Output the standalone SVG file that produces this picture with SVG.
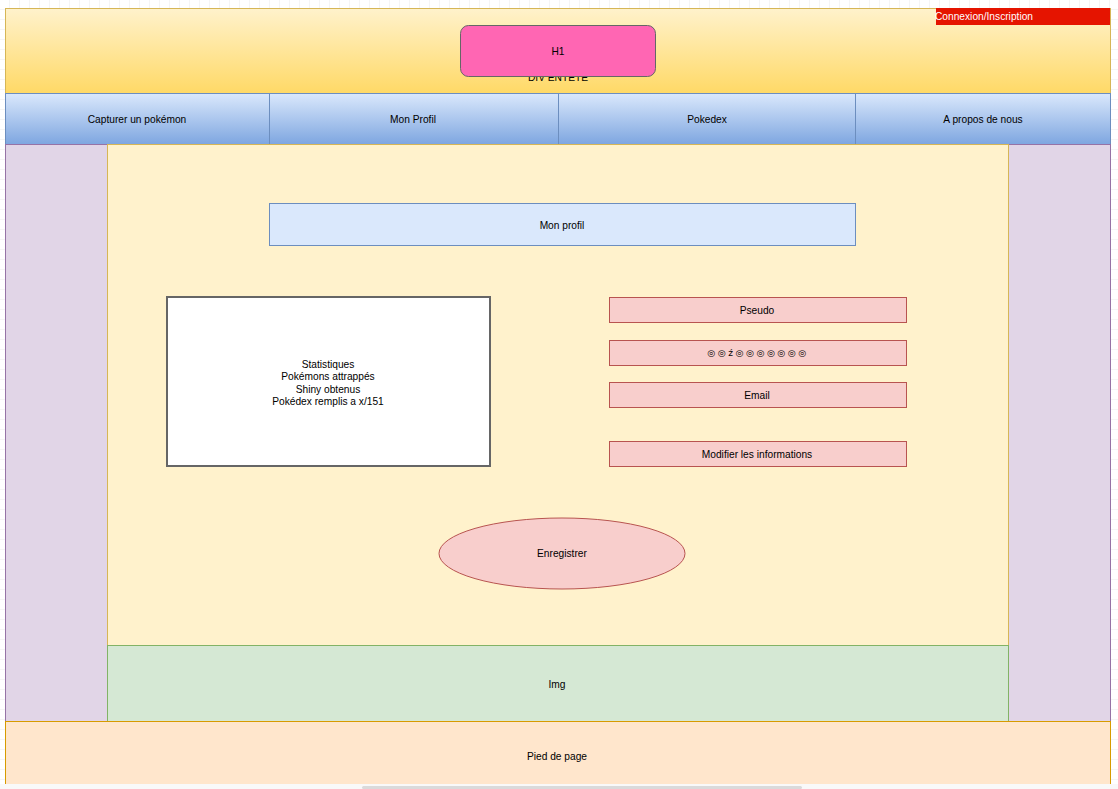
<svg xmlns="http://www.w3.org/2000/svg" width="1118" height="789" viewBox="0 0 1118 789">
<defs>
<pattern id="grid" width="10" height="10" patternUnits="userSpaceOnUse">
<rect width="10" height="10" fill="#ffffff"/>
<path d="M10 0V10M0 10H10" stroke="#ececec" stroke-width="1" fill="none"/>
</pattern>
<linearGradient id="gHead" x1="0" y1="0" x2="0" y2="1">
<stop offset="0" stop-color="#fff2cc"/>
<stop offset="1" stop-color="#ffd966"/>
</linearGradient>
<linearGradient id="gNav" x1="0" y1="0" x2="0" y2="1">
<stop offset="0" stop-color="#dae8fc"/>
<stop offset="1" stop-color="#7ea6e0"/>
</linearGradient>
</defs>
<style>
text{font-family:"Liberation Sans",Arial,sans-serif;font-size:10.2px;fill:#000;text-anchor:middle;dominant-baseline:central}
.nav{fill:url(#gNav);stroke:#6c8ebf;stroke-width:1}
.side{fill:#e1d5e7;stroke:#9673a6;stroke-width:1}
.field{fill:#f8cecc;stroke:#b85450;stroke-width:1}
</style>
<rect width="1118" height="789" fill="url(#grid)"/>

<g id="entete">
<rect x="5.5" y="8.5" width="1105" height="85" fill="url(#gHead)" stroke="#d6b656"/>
<text x="558" y="77">DIV ENTÊTE</text>
</g>
<g id="h1">
<rect x="460.5" y="25.5" width="195" height="51" rx="8" fill="#ff66b3" stroke="#666666"/>
<text x="558" y="51">H1</text>
</g>
<g id="connexion">
<rect x="936" y="8" width="174" height="17" fill="#e51400"/>
<text x="935" y="16.5" style="text-anchor:start;fill:#ffffff">Connexion/Inscription</text>
</g>

<g id="nav-capturer">
<rect class="nav" x="5.5" y="93.5" width="264" height="51"/>
<text x="137" y="119">Capturer un pokémon</text>
</g>
<g id="nav-profil">
<rect class="nav" x="269.5" y="93.5" width="289" height="51"/>
<text x="413" y="119">Mon Profil</text>
</g>
<g id="nav-pokedex">
<rect class="nav" x="558.5" y="93.5" width="297" height="51"/>
<text x="707" y="119">Pokedex</text>
</g>
<g id="nav-apropos">
<rect class="nav" x="855.5" y="93.5" width="255" height="51"/>
<text x="983" y="119">A propos de nous</text>
</g>

<g id="sidebar-left">
<rect class="side" x="5.5" y="144.5" width="102" height="577"/>
</g>
<g id="sidebar-right">
<rect class="side" x="1008.5" y="144.5" width="102" height="577"/>
</g>
<g id="main">
<rect x="107.5" y="144.5" width="901" height="501" fill="#fff2cc" stroke="#d6b656"/>
</g>

<g id="titre-profil">
<rect x="269.5" y="203.5" width="586" height="42" fill="#dae8fc" stroke="#6c8ebf"/>
<text x="562" y="225">Mon profil</text>
</g>

<g id="statistiques">
<rect x="167" y="297" width="323" height="169" fill="#ffffff" stroke="#666666" stroke-width="2"/>
<text x="328" y="364">Statistiques</text>
<text x="328" y="376">Pokémons attrappés</text>
<text x="328" y="389">Shiny obtenus</text>
<text x="328" y="401">Pokédex remplis a x/151</text>
</g>

<g id="pseudo">
<rect class="field" x="609.5" y="297.5" width="297" height="25"/>
<text x="757" y="310">Pseudo</text>
</g>
<g id="motdepasse">
<rect class="field" x="609.5" y="340.5" width="297" height="25"/>
<text x="758" y="353" style="font-family:'DejaVu Sans',sans-serif;font-size:9px;letter-spacing:2.6px">◎◎ź◎◎◎◎◎◎◎</text>
</g>
<g id="email">
<rect class="field" x="609.5" y="382.5" width="297" height="25"/>
<text x="757" y="395">Email</text>
</g>
<g id="modifier">
<rect class="field" x="609.5" y="441.5" width="297" height="25"/>
<text x="757" y="454">Modifier les informations</text>
</g>

<g id="enregistrer">
<ellipse cx="562" cy="553.5" rx="123" ry="35.5" fill="#f8cecc" stroke="#b85450"/>
<text x="562" y="553">Enregistrer</text>
</g>

<g id="img">
<rect x="107.5" y="645.5" width="901" height="76" fill="#d5e8d4" stroke="#82b366"/>
<text x="557" y="684">Img</text>
</g>

<g id="footer">
<rect x="5.5" y="721.5" width="1105" height="70" fill="#ffe6cc" stroke="#d79b00"/>
<text x="557" y="756">Pied de page</text>
</g>

<g id="connectors"></g>

<rect x="0" y="784" width="1118" height="5" fill="#f9f9f9"/>
<rect x="362" y="786" width="440" height="3" rx="1.5" fill="#dadada"/>
</svg>
